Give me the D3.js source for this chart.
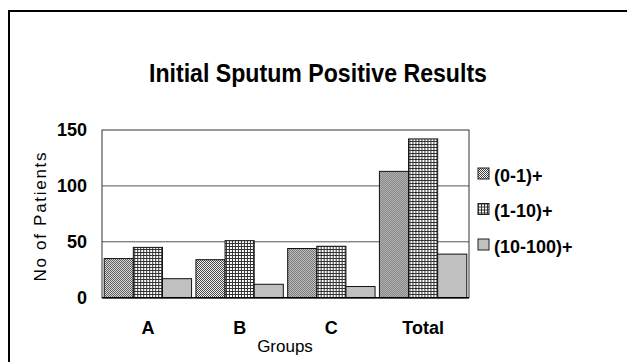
<!DOCTYPE html>
<html>
<head>
<meta charset="utf-8">
<script src="https://cdn.jsdelivr.net/npm/d3@7"></script>
<style>
  html, body { margin: 0; padding: 0; background: #fff; }
  svg { display: block; }
  .narrow { font-family: "Liberation Sans Narrow", "Arial Narrow", "Liberation Sans", Arial, sans-serif; font-weight: bold; }
  .plain { font-family: "Liberation Sans", Arial, sans-serif; }
</style>
</head>
<body>
<script>
// Chart data
const groups = ["A", "B", "C", "Total"];
const seriesNames = ["(0-1)+", "(1-10)+", "(10-100)+"];
const series01 = [35, 34, 44, 113];
const series110 = [45, 51, 46, 142];
const series10100 = [17, 12, 10, 39];
const yTicks = [0, 50, 100, 150];

const title = "Initial Sputum Positive Results";
const yTitle = "No of Patients";
const xTitle = "Groups";

const W = 627, H = 362;
const plot = { left: 102, right: 469, top: 130, bottom: 297.7 };

const svg = d3.select("body").append("svg").attr("width", W).attr("height", H);

// Fill patterns for the three series
const defs = svg.append("defs");
const p1 = defs.append("pattern").attr("id", "pat0").attr("patternUnits", "userSpaceOnUse")
  .attr("width", 2).attr("height", 2);
p1.append("rect").attr("width", 2).attr("height", 2).attr("fill", "#ffffff");
p1.append("rect").attr("x", 0).attr("y", 0).attr("width", 1).attr("height", 1).attr("fill", "#3a3a3a");
p1.append("rect").attr("x", 1).attr("y", 1).attr("width", 1).attr("height", 1).attr("fill", "#3a3a3a");

const p2 = defs.append("pattern").attr("id", "pat1").attr("patternUnits", "userSpaceOnUse")
  .attr("width", 3).attr("height", 3);
p2.append("rect").attr("width", 3).attr("height", 3).attr("fill", "#ffffff");
p2.append("rect").attr("x", 0).attr("y", 0).attr("width", 3).attr("height", 1).attr("fill", "#333");
p2.append("rect").attr("x", 0).attr("y", 0).attr("width", 1).attr("height", 3).attr("fill", "#333");

const fills = ["url(#pat0)", "url(#pat1)", "#c0c0c0"];

// Outer frame (runs off the right and bottom edges)
svg.append("rect").attr("x", 9).attr("y", 11).attr("width", W).attr("height", H)
  .attr("fill", "none").attr("stroke", "#000").attr("stroke-width", 2);

// Scales
const x0 = d3.scaleBand().domain(groups).range([plot.left, plot.right])
  .paddingInner(0.0475).paddingOuter(0.024);
const x1 = d3.scaleBand().domain(seriesNames).range([0, x0.bandwidth()]).padding(0);
const y = d3.scaleLinear().domain([0, 150]).range([plot.bottom, plot.top]);

// Gridlines
svg.append("g").selectAll("line").data(yTicks.filter(d => d > 0 && d < 150)).join("line")
  .attr("x1", plot.left).attr("x2", plot.right)
  .attr("y1", d => y(d)).attr("y2", d => y(d))
  .attr("stroke", "#555").attr("stroke-width", 1);

// Plot border
svg.append("rect").attr("x", plot.left).attr("y", y(150))
  .attr("width", plot.right - plot.left).attr("height", y(0) - y(150))
  .attr("fill", "none").attr("stroke", "#333").attr("stroke-width", 1);

// Bars
const rows = groups.map((g, i) => ({ group: g, values: [series01[i], series110[i], series10100[i]] }));
const gGroups = svg.append("g").selectAll("g").data(rows).join("g")
  .attr("transform", d => `translate(${x0(d.group)},0)`);
gGroups.selectAll("rect").data(d => d.values.map((v, k) => ({ v, k })))
  .join("rect")
  .attr("x", d => x1(seriesNames[d.k]))
  .attr("y", d => y(d.v))
  .attr("width", x1.bandwidth())
  .attr("height", d => y(0) - y(d.v))
  .attr("fill", d => fills[d.k])
  .attr("stroke", "#111").attr("stroke-width", 1);

// Baseline
svg.append("line").attr("x1", plot.left).attr("x2", plot.right)
  .attr("y1", y(0)).attr("y2", y(0)).attr("stroke", "#000").attr("stroke-width", 1.5);

// Y axis tick labels
const yAxis = d3.axisLeft(y).tickValues(yTicks).tickSize(0).tickPadding(15);
const ya = svg.append("g").attr("transform", `translate(${plot.left},0)`).call(yAxis);
ya.select(".domain").remove();
ya.selectAll("text").attr("class", "narrow").attr("font-size", 18).attr("fill", "#000");

// X axis category labels
const xAxis = d3.axisBottom(x0).tickSize(0).tickPadding(24);
const xa = svg.append("g").attr("transform", `translate(0,${plot.bottom})`).call(xAxis);
xa.select(".domain").remove();
xa.selectAll("text").attr("class", "narrow").attr("font-size", 18).attr("fill", "#000");

// Title, condensed to fit its line
svg.append("text").attr("class", "narrow").attr("x", 318).attr("y", 82)
  .attr("text-anchor", "middle").attr("font-size", 25)
  .attr("textLength", 338).attr("lengthAdjust", "spacingAndGlyphs").text(title);

// Axis titles
svg.append("text").attr("class", "plain").attr("font-size", 17)
  .attr("transform", "translate(46,217) rotate(-90)")
  .attr("text-anchor", "middle").attr("textLength", 129).attr("lengthAdjust", "spacing")
  .text(yTitle);
svg.append("text").attr("class", "plain").attr("font-size", 17)
  .attr("x", 285).attr("y", 351.5).attr("text-anchor", "middle").text(xTitle);

// Legend
const legend = svg.append("g").selectAll("g").data(seriesNames).join("g")
  .attr("transform", (d, i) => `translate(478,${168 + i * 35.5})`);
legend.append("rect").attr("width", 11).attr("height", 11)
  .attr("fill", (d, i) => fills[i]).attr("stroke", "#222").attr("stroke-width", 1);
legend.append("text").attr("class", "narrow").attr("font-size", 18)
  .attr("x", 16).attr("y", 13.5).text(d => d);
</script>
</body>
</html>
